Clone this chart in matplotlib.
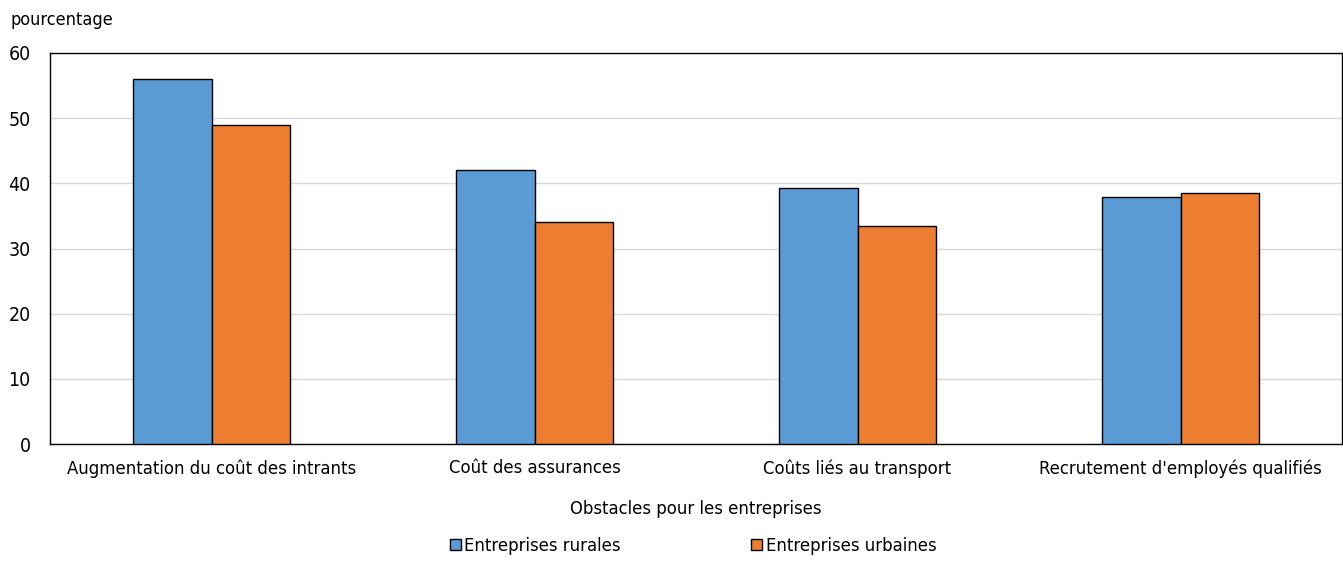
import numpy as np
import matplotlib
matplotlib.use('Agg')
import matplotlib.pyplot as plt
from matplotlib.patches import Patch

plt.rcParams['font.family'] = ['DejaVu Sans']
plt.rcParams['font.stretch'] = 'condensed'

categories = ['Augmentation du coût des intrants', 'Coût des assurances',
              'Coûts liés au transport', "Recrutement d'employés qualifiés"]
rurales = [56.0, 42.1, 39.3, 37.9]
urbaines = [49.0, 34.1, 33.5, 38.5]
series_names = ['Entreprises rurales', 'Entreprises urbaines']
colors = ['#5b9bd5', '#ed7d31']
yticks = [0, 10, 20, 30, 40, 50, 60]

fig = plt.figure(figsize=(13.43, 5.61), dpi=100)
ax = fig.add_axes([50 / 1343, 1 - 444 / 561, 1292 / 1343, 391 / 561])

x = np.arange(len(categories))
w = 0.243
ax.bar(x - w / 2, rurales, w, color=colors[0], edgecolor='black', linewidth=1, zorder=3)
ax.bar(x + w / 2, urbaines, w, color=colors[1], edgecolor='black', linewidth=1, zorder=3)

ax.set_xlim(-0.5, len(categories) - 0.5)
ax.set_ylim(0, 60)
ax.set_yticks(yticks)
ax.set_xticks(x)
ax.set_xticklabels(categories, fontsize=13.2)
ax.tick_params(axis='y', labelsize=14, length=0, pad=14)
ax.tick_params(axis='x', length=0, pad=11)
ax.yaxis.grid(True, color='#d9d9d9', linewidth=1, zorder=0)
for s in ax.spines.values():
    s.set_color('black')
    s.set_linewidth(1)

ax.set_xlabel('Obstacles pour les entreprises', fontsize=13.2, labelpad=16)
fig.text(10 / 1343, 1 - 20 / 561, 'pourcentage', fontsize=13, va='center', ha='left')

handles = [Patch(facecolor=c, edgecolor='black', linewidth=1) for c in colors]
fig.legend(handles, series_names, loc='center', bbox_to_anchor=(0.516, 1 - 546 / 561),
           ncol=2, frameon=False, fontsize=13.2, handlelength=0.6, handleheight=0.6,
           handletextpad=0.2, columnspacing=7.1)

fig.savefig('out.png', dpi=100)
